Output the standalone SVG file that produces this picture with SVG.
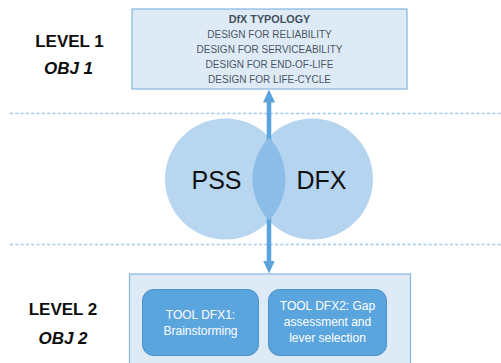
<svg xmlns="http://www.w3.org/2000/svg" width="501" height="363" viewBox="0 0 501 363">
  <style>
    .lvl { font-family: "Liberation Sans", Arial, sans-serif; font-size: 17px; font-weight: bold; fill: #0d0d0d; text-anchor: middle; }
    .obj { font-style: italic; }
    .typo { font-family: "Liberation Sans", Arial, sans-serif; font-size: 10px; fill: #4a5562; text-anchor: middle; }
    .typo-title { font-weight: bold; font-size: 10.8px; fill: #444f5c; }
    .circle-label { font-family: "Liberation Sans", Arial, sans-serif; font-size: 25px; fill: #111; text-anchor: middle; }
    .tool { fill: #5ba5de; stroke: #4b8fcb; stroke-width: 1; }
    .tool-text { font-family: "Liberation Sans", Arial, sans-serif; font-size: 12px; fill: #ffffff; text-anchor: middle; }
    .panel { fill: #deebf7; stroke: #86b4de; stroke-width: 1.2; }
    .sep { stroke: #9fcaee; stroke-width: 1.3; stroke-dasharray: 3 2.3; fill: none; }
    .arrow { stroke: #5aa3dd; stroke-width: 4.5; fill: none; }
  </style>
  <defs>
    <marker id="head" markerUnits="userSpaceOnUse" viewBox="0 0 13 12" refX="0.5" refY="6" markerWidth="13" markerHeight="12" orient="auto">
      <path d="M0,0 L13,6 L0,12 z" fill="#5aa3dd"/>
    </marker>
  </defs>

  <rect width="501" height="363" fill="#ffffff"/>

  <!-- level separators -->
  <g id="separators">
    <line class="sep" x1="10" y1="113.5" x2="501" y2="113.5"/>
    <line class="sep" x1="10" y1="244.5" x2="501" y2="244.5"/>
  </g>

  <!-- level labels -->
  <g id="level1-label">
    <text class="lvl" x="69.5" y="46.5">LEVEL 1</text>
    <text class="lvl obj" x="68.5" y="74">OBJ 1</text>
  </g>
  <g id="level2-label">
    <text class="lvl" x="63" y="315">LEVEL 2</text>
    <text class="lvl obj" x="63" y="344">OBJ 2</text>
  </g>

  <!-- DfX typology panel -->
  <g id="dfx-typology">
    <rect class="panel" x="132" y="9" width="275" height="80"/>
    <text class="typo typo-title" x="269.5" y="23">DfX TYPOLOGY</text>
    <text class="typo" x="269.5" y="38">DESIGN FOR RELIABILITY</text>
    <text class="typo" x="269.5" y="53">DESIGN FOR SERVICEABILITY</text>
    <text class="typo" x="269.5" y="68">DESIGN FOR END-OF-LIFE</text>
    <text class="typo" x="269.5" y="83">DESIGN FOR LIFE-CYCLE</text>
  </g>

  <!-- tools panel -->
  <g id="tools-panel">
    <rect class="panel" x="129.5" y="274" width="281" height="100"/>
  </g>
  <g id="tool-dfx1">
    <rect class="tool" x="142.5" y="289.5" width="116" height="66" rx="11"/>
    <text class="tool-text" x="200.5" y="319">TOOL DFX1:</text>
    <text class="tool-text" x="200.5" y="335">Brainstorming</text>
  </g>
  <g id="tool-dfx2">
    <rect class="tool" x="268.5" y="289.5" width="118" height="66" rx="11"/>
    <text class="tool-text" x="327.5" y="310">TOOL DFX2: Gap</text>
    <text class="tool-text" x="327.5" y="326">assessment and</text>
    <text class="tool-text" x="327.5" y="342">lever selection</text>
  </g>

  <!-- PSS / DFX overlap -->
  <g id="pss">
    <circle cx="225.5" cy="179" r="60.5" fill="#b8d6f0"/>
  </g>
  <g id="dfx">
    <circle cx="312.5" cy="179" r="60.5" fill="#b5d4ef"/>
  </g>

  <g id="connectors">
    <line class="arrow" x1="269" y1="160" x2="269" y2="102" marker-end="url(#head)"/>
    <line class="arrow" x1="269" y1="200" x2="269" y2="261" marker-end="url(#head)"/>
  </g>

  <g id="overlap">
    <path d="M269,137.5 A60.5,60.5 0 0 1 269,220.5 A60.5,60.5 0 0 1 269,137.5 z" fill="#8cbde8"/>
  </g>

  <text class="circle-label" x="216.5" y="189">PSS</text>
  <text class="circle-label" x="321.5" y="189">DFX</text>
</svg>
